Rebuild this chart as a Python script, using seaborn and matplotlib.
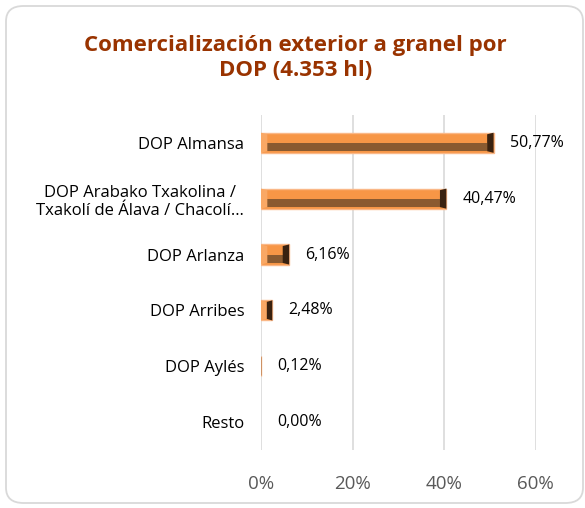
import numpy as np
import pandas as pd
import matplotlib
matplotlib.use("Agg")
import matplotlib.pyplot as plt
import seaborn as sns
from matplotlib.patches import FancyBboxPatch, Polygon

# ----------------------------------------------------------
# Data
# ----------------------------------------------------------
categories = [
    "DOP Almansa",
    "DOP Arabako Txakolina /\nTxakolí de Álava / Chacolí…",
    "DOP Arlanza",
    "DOP Arribes",
    "DOP Aylés",
    "Resto",
]
shares = [0.5077, 0.4047, 0.0616, 0.0248, 0.0012, 0.0000]
x_ticks = [0, 0.2, 0.4, 0.6]
x_tick_labels = ["0%", "20%", "40%", "60%"]
title = "Comercialización exterior a granel por\nDOP (4.353 hl)"

df = pd.DataFrame({"dop": categories, "share": shares})

# ----------------------------------------------------------
# Style
# ----------------------------------------------------------
sns.set_style("white")
plt.rcParams["font.family"] = ["Open Sans", "DejaVu Sans"]

fig = plt.figure(figsize=(5.85, 5.08), dpi=100)
ax = fig.add_axes([0.446, 0.114, 0.47, 0.66])

# rounded border around the whole chart
border = FancyBboxPatch((6 / 585, 5 / 508), 577 / 585, 497 / 508,
                        boxstyle="round,pad=0,rounding_size=0.03",
                        transform=fig.transFigure, facecolor="white",
                        edgecolor="#D9D9D9", linewidth=1.3, zorder=-10)
fig.patches.append(border)

sns.barplot(data=df, x="share", y="dop", orient="h", ax=ax,
            color="#F79646", saturation=1, width=0.36,
            edgecolor="#FAB888", linewidth=1.0, zorder=3)

# bevel look: dark lower half and shaded end caps, built from each bar
for p in ax.patches:
    x0, y0 = p.get_x(), p.get_y()
    w, h = p.get_width(), p.get_height()
    if w <= 0:
        p.set_visible(False)
        continue
    x1, y1 = x0 + w, y0 + h
    ym = y0 + h / 2
    d = min(0.014, w / 2)
    iy = h * 0.08
    ax.add_patch(Polygon([(x0 + d, ym), (x1 - d, ym), (x1 - d, y1 - iy), (x0 + d, y1 - iy)],
                         closed=True, facecolor="#8A5A30", edgecolor="none", zorder=4))
    ax.add_patch(Polygon([(x1 - d, y0 + iy), (x1, y0), (x1, y1), (x1 - d, y1 - iy)],
                         closed=True, facecolor="#3A2210", edgecolor="none", zorder=4))
    ax.add_patch(Polygon([(x0, y0), (x0 + d, y0 + iy), (x0 + d, y1 - iy), (x0, y1)],
                         closed=True, facecolor="#F9A865", edgecolor="none", zorder=4))

# data labels
for i, v in enumerate(shares):
    ax.annotate(f"{v * 100:.2f}%".replace(".", ","), (v, i),
                xytext=(16, 0), textcoords="offset pixels",
                ha="left", va="center", fontsize=11.5, color="#000000")

ax.set_xlim(0, 0.6)
ax.set_xticks(x_ticks)
ax.set_xticklabels(x_tick_labels, fontsize=13.5, color="#595959")
ax.tick_params(axis="x", length=0, pad=18)
ax.tick_params(axis="y", length=0, pad=12, labelsize=12, labelcolor="#000000")
for lab in ax.get_yticklabels():
    lab.set_multialignment("center")
ax.set_xlabel("")
ax.set_ylabel("")
ax.grid(axis="x", color="#D9D9D9", linewidth=1.2, zorder=0)
ax.grid(axis="y", visible=False)
ax.set_axisbelow(True)
sns.despine(ax=ax, left=True, bottom=True)

fig.text(0.505, 0.886, title, ha="center", va="center", fontsize=16,
         fontweight="bold", color="#993300", linespacing=1.3)

fig.savefig("out.png", dpi=100)
